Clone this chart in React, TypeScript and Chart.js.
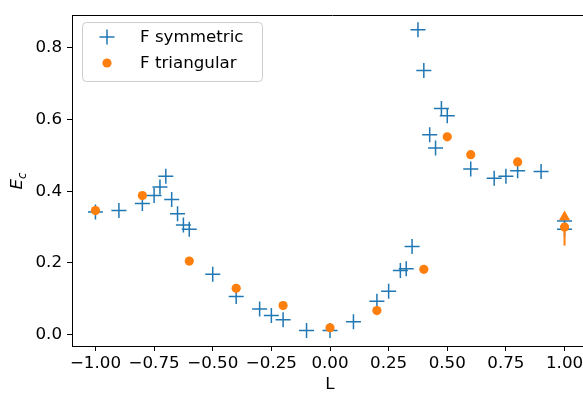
import React, { useEffect, useRef } from 'react';
import { Chart, registerables } from 'chart.js';
Chart.register(...registerables);

// ---- data ----
const symL = [-1, -0.9, -0.8, -0.75, -0.725, -0.7, -0.675, -0.65, -0.625, -0.6, -0.5, -0.4, -0.3, -0.25, -0.2, -0.1, 0, 0.1, 0.2, 0.25, 0.3, 0.325, 0.35, 0.375, 0.4, 0.425, 0.45, 0.475, 0.5, 0.6, 0.7, 0.75, 0.8, 0.9, 1, 1];
const symE = [0.342, 0.346, 0.366, 0.388, 0.412, 0.442, 0.377, 0.337, 0.306, 0.294, 0.168, 0.106, 0.071, 0.053, 0.041, 0.011, 0.011, 0.036, 0.093, 0.121, 0.179, 0.184, 0.246, 0.851, 0.737, 0.558, 0.521, 0.631, 0.611, 0.462, 0.436, 0.442, 0.457, 0.455, 0.317, 0.294];
const triL = [-1, -0.8, -0.6, -0.4, -0.2, 0, 0.2, 0.4, 0.5, 0.6, 0.8, 1, 1, 1];
const triE = [0.346, 0.388, 0.205, 0.129, 0.081, 0.019, 0.067, 0.182, 0.552, 0.502, 0.482, 0.328, 0.30, 0.272];
const xTicks = [-1, -0.75, -0.5, -0.25, 0, 0.25, 0.5, 0.75, 1];
const yTicks = [0, 0.2, 0.4, 0.6, 0.8];
const seriesNames = ['F symmetric', 'F triangular'];
const xLabel = 'L';

const BLUE = '#1f77b4';
const ORANGE = '#ff7f0e';
const FONT = 'DejaVu Sans';
const FS = 16.7;

const fmtX = (v: number) => (v < 0 ? '\u2212' : '') + Math.abs(v).toFixed(2);
const fmtY = (v: number) => (v < 0 ? '\u2212' : '') + Math.abs(v).toFixed(1);

// marker overrides for the overlapping points at L = 1 (triangular series)
const triStyles = triL.map((_, i) => (i === triL.length - 3 ? 'triangle' : i === triL.length - 1 ? 'line' : 'circle'));
const triRadius = triL.map((_, i) => (i === triL.length - 3 ? 6.5 : i === triL.length - 1 ? 8.5 : 4.6));
const triRotation = triL.map((_, i) => (i === triL.length - 1 ? 90 : 0));
const triBorderColor = triL.map(() => ORANGE);
const triBorderWidth = triL.map((_, i) => (i === triL.length - 1 ? 2 : 0));

const decor = {
  id: 'decor',
  afterDraw(chart: any) {
    const { ctx, chartArea } = chart;
    const { left, top, right } = chartArea;
    ctx.save();
    // top spine
    ctx.strokeStyle = '#000';
    ctx.lineWidth = 1;
    ctx.beginPath();
    ctx.moveTo(left, Math.round(top) + 0.5);
    ctx.lineTo(right + 5, Math.round(top) + 0.5);
    ctx.stroke();

    // legend
    const bx = 82.5, by = 22.5, bw = 180, bh = 59, r = 4;
    ctx.beginPath();
    ctx.moveTo(bx + r, by);
    ctx.lineTo(bx + bw - r, by);
    ctx.quadraticCurveTo(bx + bw, by, bx + bw, by + r);
    ctx.lineTo(bx + bw, by + bh - r);
    ctx.quadraticCurveTo(bx + bw, by + bh, bx + bw - r, by + bh);
    ctx.lineTo(bx + r, by + bh);
    ctx.quadraticCurveTo(bx, by + bh, bx, by + bh - r);
    ctx.lineTo(bx, by + r);
    ctx.quadraticCurveTo(bx, by, bx + r, by);
    ctx.closePath();
    ctx.fillStyle = 'rgba(255,255,255,0.8)';
    ctx.fill();
    ctx.strokeStyle = '#cccccc';
    ctx.stroke();

    const mx = 107, y1 = 37, y2 = 63;
    ctx.strokeStyle = BLUE;
    ctx.lineWidth = 1.5;
    ctx.beginPath();
    ctx.moveTo(mx - 7.5, y1); ctx.lineTo(mx + 7.5, y1);
    ctx.moveTo(mx, y1 - 7.5); ctx.lineTo(mx, y1 + 7.5);
    ctx.stroke();
    ctx.fillStyle = ORANGE;
    ctx.beginPath();
    ctx.arc(mx, y2, 4.6, 0, Math.PI * 2);
    ctx.fill();

    ctx.fillStyle = '#000';
    ctx.font = `${FS}px "${FONT}"`;
    ctx.textBaseline = 'middle';
    ctx.textAlign = 'left';
    ctx.fillText(seriesNames[0], 140, y1 + 1);
    ctx.fillText(seriesNames[1], 140, y2 + 1);

    // x title
    ctx.textAlign = 'center';
    ctx.textBaseline = 'middle';
    ctx.fillText(xLabel, 330, 385);

    // y title: italic E with subscript c, rotated
    ctx.translate(16, 181);
    ctx.rotate(-Math.PI / 2);
    ctx.textAlign = 'left';
    ctx.textBaseline = 'alphabetic';
    const fE = `italic ${FS}px "${FONT}"`;
    const fc = `italic ${FS * 0.7}px "${FONT}"`;
    ctx.font = fE;
    const wE = ctx.measureText('E').width;
    ctx.font = fc;
    const wc = ctx.measureText('c').width;
    const total = wE + wc;
    const x0 = -total / 2;
    ctx.font = fE;
    ctx.fillText('E', x0, 6);
    ctx.font = fc;
    ctx.fillText('c', x0 + wE, 9.5);
    ctx.restore();
  },
};

export default function App() {
  const ref = useRef<HTMLCanvasElement>(null);
  useEffect(() => {
    document.body.style.margin = '0';
    document.body.style.overflow = 'hidden';
    Chart.defaults.font.family = FONT;
    const chart = new Chart(ref.current as HTMLCanvasElement, {
      type: 'scatter',
      data: {
        datasets: [
          {
            label: seriesNames[1],
            data: triL.map((x, i) => ({ x, y: triE[i] })),
            pointStyle: triStyles as any,
            pointRadius: triRadius,
            pointRotation: triRotation,
            pointBackgroundColor: ORANGE,
            pointBorderColor: triBorderColor,
            pointBorderWidth: triBorderWidth,
            showLine: false,
            order: 0,
          },
          {
            label: seriesNames[0],
            data: symL.map((x, i) => ({ x, y: symE[i] })),
            pointStyle: 'cross',
            pointRadius: 7.5,
            pointBorderColor: BLUE,
            pointBorderWidth: 1.5,
            showLine: false,
            order: 1,
          },
        ],
      },
      options: {
        animation: false,
        responsive: false,
        devicePixelRatio: 1,
        layout: { padding: { top: 13, right: 12, left: 0, bottom: 0 } },
        plugins: { legend: { display: false }, tooltip: { enabled: false } },
        scales: {
          x: {
            type: 'linear',
            min: -1.1,
            max: 1.1,
            afterBuildTicks: (s: any) => { s.ticks = xTicks.map((v) => ({ value: v })); },
            afterFit: (s: any) => { s.height = 50; },
            ticks: { color: '#000', font: { size: FS, family: FONT }, padding: 3, maxRotation: 0, autoSkip: false, callback: (v: any) => fmtX(Number(v)) },
            grid: { drawOnChartArea: false, tickLength: 5, tickColor: '#000', tickWidth: 1 },
            border: { color: '#000', width: 1 },
          },
          y: {
            type: 'linear',
            min: -0.032,
            max: 0.892,
            afterBuildTicks: (s: any) => { s.ticks = yTicks.map((v) => ({ value: v })); },
            afterFit: (s: any) => { s.width = 72; },
            ticks: { color: '#000', font: { size: FS, family: FONT }, padding: 5, autoSkip: false, callback: (v: any) => fmtY(Number(v)) },
            grid: { drawOnChartArea: false, tickLength: 5, tickColor: '#000', tickWidth: 1 },
            border: { color: '#000', width: 1 },
          },
        },
      },
      plugins: [decor],
    });
    return () => chart.destroy();
  }, []);
  return (
    <div style={{ width: 583, height: 396, overflow: 'hidden', background: '#fff' }}>
      <canvas ref={ref} width={600} height={396} style={{ display: 'block' }} />
    </div>
  );
}
